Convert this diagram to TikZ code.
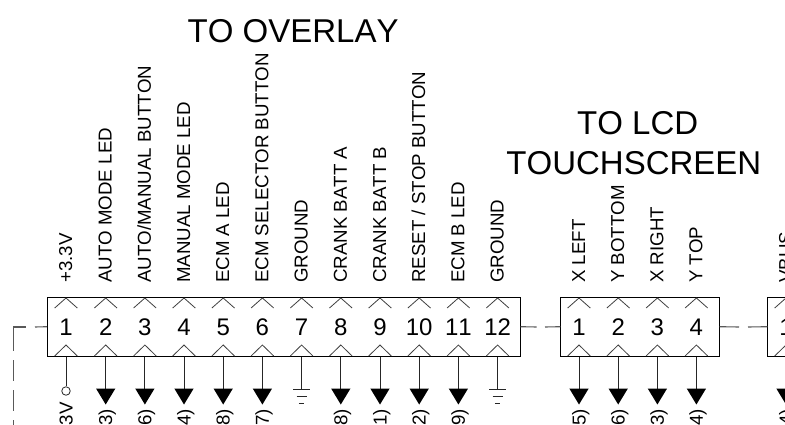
\documentclass[tikz,border=0pt]{standalone}
\usepackage{fontspec}
\setmainfont{Liberation Sans}[Kerning=Off]
\tikzset{
  x=1pt,y=-1pt,
  conbox/.style={draw=black,line width=1pt,minimum height=59pt,inner sep=0pt,outer sep=0pt},
  pinnum/.style={font=\fontsize{24}{24}\selectfont,inner sep=0pt},
  siglabel/.style={font=\fontsize{18.7}{19}\selectfont,rotate=90,anchor=base west,inner sep=0pt},
  clipped/.style={font=\fontsize{18.7}{19}\selectfont,rotate=90,anchor=base east,inner sep=0pt},
  title/.style={font=\fontsize{33}{36}\selectfont,inner sep=0pt},
  chev/.style={draw=black!75,line width=.8pt},
  wire/.style={draw=black!85,line width=.9pt},
  dashwire/.style={draw=black!65,line width=1.1pt},
}
\newcommand{\pinmarks}[1]{%
  \draw[chev] (#1-11.3,308) -- (#1,298) -- (#1+11.3,308);
  \draw[chev] (#1-11.3,356) -- (#1,345) -- (#1+11.3,356);}
\newcommand{\downarrowpin}[2]{%
  \coordinate (tip#2) at (#1,389);
  \draw[wire] (#1,356.5) -- (tip#2);
  \fill[black] (#1-9.7,388.5) -- (#1+9.7,388.5) -- (#1,404.5) -- cycle;}
\newcommand{\groundpin}[2]{%
  \coordinate (gnd#2) at (#1,389);
  \draw[wire] (#1,356.5) -- (gnd#2);
  \draw[wire] (#1-8.3,389) -- (#1+8.3,389);
  \draw[wire] (#1-5,396) -- (#1+5,396);
  \draw[wire] (#1-2.7,403) -- (#1+2.7,403);}
\begin{document}
\begin{tikzpicture}
\useasboundingbox (0,0) rectangle (785,425);
\clip (0,0) rectangle (785,425);
\fill[white] (0,0) rectangle (785,425);
% titles
\node[title,anchor=base west] (ttlA) at (187.5,43) {TO OVERLAY};
\node[title,anchor=base west] (ttlB) at (577,135) {TO LCD};
\node[title,anchor=base east] (ttlC) at (761.5,175) {TOUCHSCREEN};
% boxes
\node[conbox,minimum width=473.5pt] (boxA) at (283.75,326.7) {};
\node[conbox,minimum width=159.4pt] (boxB) at (640,326.7) {};
\node[conbox,minimum width=159.4pt] (boxC) at (847,326.7) {};
% dashed links
\coordinate (cAa) at (13.7,327);
\coordinate (cAb) at (13.7,425);
\draw[dashwire] (boxA.west) -- (35,327);
\draw[dashwire] (25.7,327) -- (cAa) -- (13.7,351);
\draw[dashwire] (13.7,360) -- (13.7,381);
\draw[dashwire] (13.7,390) -- (13.7,411);
\draw[dashwire] (13.7,420) -- (cAb);
\draw[dashwire] (boxA.east) -- (536.7,327);
\draw[dashwire] (545,327) -- (boxB.west);
\draw[dashwire] (boxB.east) -- (739,327);
\draw[dashwire] (748,327) -- (boxC.west);
% connector A
\foreach \x/\n/\t in {66/1/{+3.3V},105.7/2/{AUTO MODE LED},144.9/3/{AUTO/MANUAL BUTTON},184/4/{MANUAL MODE LED},223.2/5/{ECM A LED},262.4/6/{ECM SELECTOR BUTTON},301.6/7/{GROUND},340.8/8/{CRANK BATT A},380/9/{CRANK BATT B},419.2/10/{RESET / STOP BUTTON},458.4/11/{ECM B LED},497.6/12/{GROUND}}{
  \node[pinnum] (a\n) at (\x,327) {\n};
  \node[siglabel] (la\n) at (\x+6,283) {\t};
  \pinmarks{\x}
}
% connector B
\foreach \x/\n/\t in {579/1/{X LEFT},618.2/2/{Y BOTTOM},657.4/3/{X RIGHT},696.4/4/{Y TOP}}{
  \node[pinnum] (b\n) at (\x,327) {\n};
  \node[siglabel] (lb\n) at (\x+6,283) {\t};
  \pinmarks{\x}
}
% connector C
\node[pinnum] (c1) at (786,327) {1};
\node[siglabel] (lc1) at (792,283) {VBUS};
\pinmarks{786}
% power pin
\node[draw=black!85,line width=.8pt,circle,minimum size=8.5pt,inner sep=0pt] (pwr) at (66,391) {};
\draw[wire] (66,356.5) -- (pwr.north);
\node[clipped] (v1) at (72.5,402) {3V};
% grounds
\groundpin{301.6}{7}
\groundpin{497.6}{12}
% arrows
\foreach \x/\k/\t in {105.7/a2/3),144.9/a3/6),184/a4/4),223.2/a5/8),262.4/a6/7),340.8/a8/8),380/a9/1),419.2/a10/2),458.4/a11/9),579/b1/5),618.2/b2/6),657.4/b3/3),696.4/b4/4),786/c1/4)}{
  \downarrowpin{\x}{\k}
  \node[clipped] (t\k) at (\x+6.5,409) {\t};
}
\end{tikzpicture}
\end{document}
